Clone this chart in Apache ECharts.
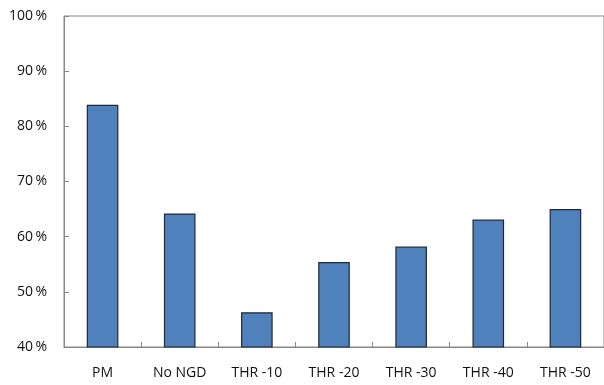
<!DOCTYPE html>
<html>
<head>
<meta charset="utf-8">
<script src="https://cdn.jsdelivr.net/npm/echarts@6/dist/echarts.min.js"></script>
<style>
  html, body { margin: 0; padding: 0; background: #fff; }
  #chart { width: 604px; height: 385px; }
</style>
</head>
<body>
<div id="chart"></div>
<script>
const categories = ['PM', 'No NGD', 'THR -10', 'THR -20', 'THR -30', 'THR -40', 'THR -50']
const values = [83.9, 64.2, 46.3, 55.4, 58.2, 63.1, 65.0]
const yMin = 40
const yMax = 100
const yStep = 10

const chart = echarts.init(document.getElementById('chart'))

// plot box runs a little past the right edge, like the original
const option = {
  animation: false,
  grid: {
    left: 64,
    top: 16,
    width: 543,
    height: 331,
    show: true,
    borderColor: '#888888',
    borderWidth: 1
  },
  xAxis: {
    type: 'category',
    data: categories,
    axisLine: { lineStyle: { color: '#888888', width: 1 } },
    axisTick: { show: true, inside: true, length: 5, lineStyle: { color: '#888888' } },
    axisLabel: {
      color: '#111111',
      fontFamily: 'Open Sans',
      fontSize: 14,
      margin: 19,
      interval: 0
    }
  },
  yAxis: {
    type: 'value',
    min: yMin,
    max: yMax,
    interval: yStep,
    axisLine: { show: true, lineStyle: { color: '#888888', width: 1 } },
    axisTick: { show: true, inside: true, length: 5, lineStyle: { color: '#888888' } },
    splitLine: { show: false },
    axisLabel: {
      color: '#111111',
      fontFamily: 'Open Sans',
      fontSize: 14,
      margin: 17,
      formatter: v => v + '\u2009%'
    }
  },
  series: [{
    type: 'bar',
    data: values,
    barWidth: '41%',
    itemStyle: {
      color: '#4f81bd',
      borderColor: '#1f2a36',
      borderWidth: 1.2
    }
  }]
}

chart.setOption(option)
</script>
</body>
</html>
